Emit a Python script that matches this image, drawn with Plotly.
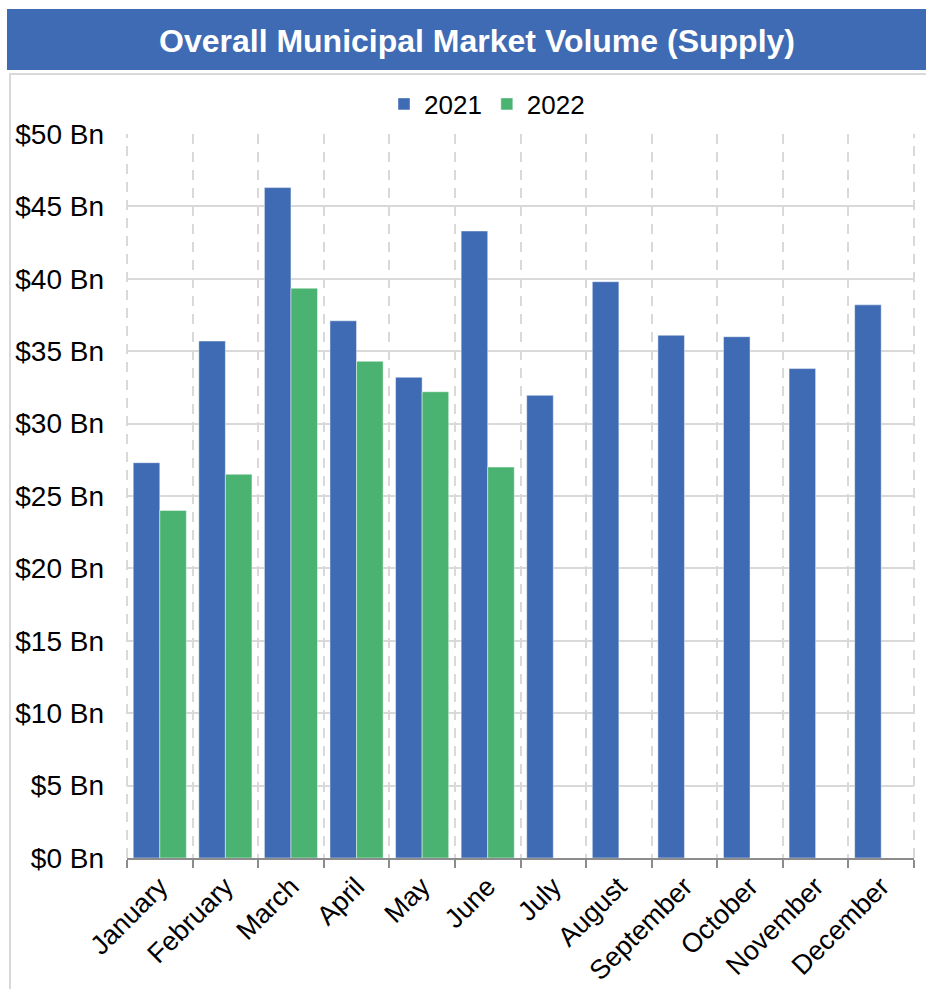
import plotly.graph_objects as go

months = ['January', 'February', 'March', 'April', 'May', 'June', 'July',
          'August', 'September', 'October', 'November', 'December']
vol_2021 = [27.3, 35.7, 46.3, 37.1, 33.2, 43.3, 31.95, 39.8, 36.1, 36.0, 33.8, 38.2]
vol_2022 = [24.0, 26.5, 39.35, 34.3, 32.2, 27.0, None, None, None, None, None, None]

BLUE = '#3F6BB4'
GREEN = '#4BB371'
GRID = '#d9d9d9'
FONT = 'Liberation Sans, Arial, sans-serif'

# plot area in pixels (used only to place the frame / header shapes)
L, R, T, B = 127, 914, 134, 858


def px(x):
    return (x - L) / (R - L)


def py(y):
    return (B - y) / (B - T)


fig = go.Figure()
fig.add_trace(go.Bar(name='2021', x=months, y=vol_2021, marker_color=BLUE,
                     marker_line=dict(color='rgba(255,255,255,0.45)', width=1)))
fig.add_trace(go.Bar(name='2022', x=months, y=vol_2022, marker_color=GREEN,
                     marker_line=dict(color='rgba(255,255,255,0.45)', width=1)))

# outer frame and header bar
fig.add_shape(type='rect', xref='paper', yref='paper',
              x0=px(10), x1=px(940), y0=py(74), y1=py(1000),
              line=dict(color=GRID, width=2), fillcolor='rgba(0,0,0,0)', layer='below')
fig.add_shape(type='rect', xref='paper', yref='paper',
              x0=px(7), x1=px(940), y0=py(9), y1=py(70),
              line=dict(width=0), fillcolor=BLUE, layer='below')
fig.add_annotation(text='<b>Overall Municipal Market Volume (Supply)</b>',
                   xref='paper', yref='paper', x=px(477), y=py(41),
                   xanchor='center', yanchor='middle', showarrow=False,
                   font=dict(family=FONT, size=32, color='white'))

# dashed gridlines at the two outer category boundaries
for xe in (0, 1):
    fig.add_shape(type='line', xref='paper', yref='paper', x0=xe, x1=xe, y0=0, y1=1,
                  line=dict(color=GRID, width=2, dash='10px,8px'), layer='below')

fig.update_layout(
    width=926, height=989,
    margin=dict(l=L, r=926 - R, t=T, b=989 - B),
    paper_bgcolor='white', plot_bgcolor='white',
    font=dict(family=FONT, size=26, color='black'),
    barmode='group', bargap=0.19, bargroupgap=0,
    showlegend=True,
    legend=dict(orientation='h', x=px(487), y=1 + (T - 104) / (B - T),
                xanchor='center', yanchor='middle', font=dict(size=26),
                itemwidth=30, traceorder='normal'),
)

fig.update_xaxes(
    tickson='boundaries', showgrid=True, gridcolor=GRID, gridwidth=2, griddash='10px,8px',
    ticks='outside', ticklen=8, tickwidth=2, tickcolor='#8c8c8c',
    showline=True, linecolor='#8c8c8c', linewidth=2,
    tickangle=-45, tickfont=dict(size=27), automargin=False,
)
fig.update_yaxes(
    range=[0, 50], dtick=5, tickprefix='$', ticksuffix=' Bn',
    showgrid=True, gridcolor=GRID, gridwidth=2, zeroline=False, showline=False,
    tickfont=dict(size=28), ticklabelstandoff=22, automargin=False,
)

fig.write_html('out.html', config={'displayModeBar': False},
               post_script="document.body.style.margin='0';")
